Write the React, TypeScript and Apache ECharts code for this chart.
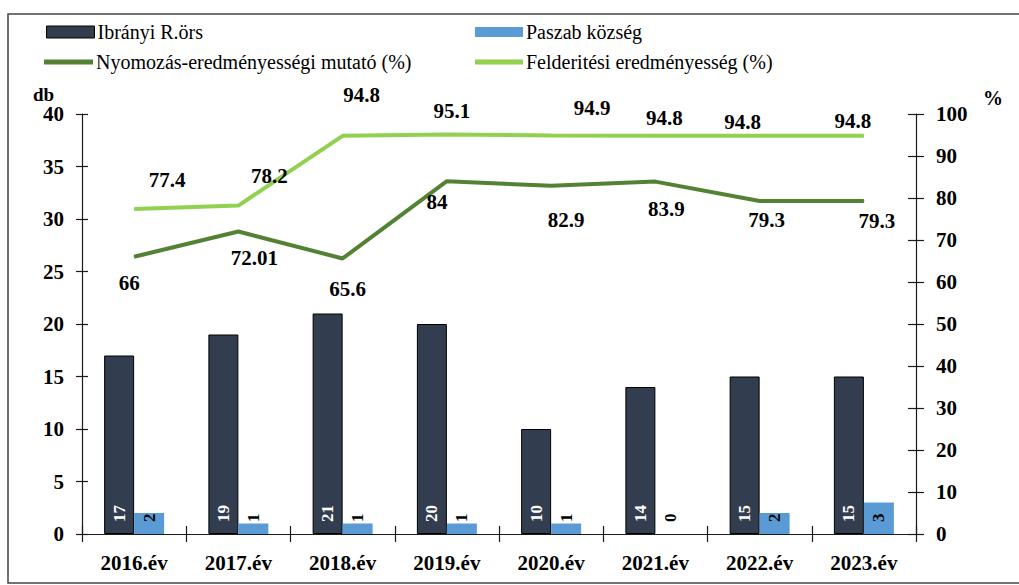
import React, { useEffect, useRef } from "react";
import * as echarts from "echarts";

const categories = ["2016.év", "2017.év", "2018.év", "2019.év", "2020.év", "2021.év", "2022.év", "2023.év"];
const ibranyi = [17, 19, 21, 20, 10, 14, 15, 15];
const paszab = [2, 1, 1, 1, 1, 0, 2, 3];
const nyomozas = [66, 72.01, 65.6, 84, 82.9, 83.9, 79.3, 79.3];
const felderitesi = [77.4, 78.2, 94.8, 95.1, 94.9, 94.8, 94.8, 94.8];

const seriesNames = [
  "Ibrányi R.örs",
  "Paszab község",
  "Nyomozás-eredményességi mutató (%)",
  "Felderitési eredményesség (%)",
];

// label placement offsets (styling only)
const nyomozasLabelOffsets = [[-5, 26], [16, 26], [5, 31], [-10, 21], [15, 34], [11, 27], [7, 19], [13, 20]];
const felderitesiLabelOffsets = [[33, -29], [31, -30], [19, -41], [5, -24], [41, -27], [9, -18], [-17, -14], [-11, -15]];

const SERIF = "Liberation Serif";
const DARK = "#323E4F";
const BLUE = "#5B9BD5";
const GREEN_DARK = "#548235";
const GREEN_LIGHT = "#92D050";
const AXIS = "#1a1a1a";

export default function App() {
  const ref = useRef<HTMLDivElement>(null);
  useEffect(() => {
    if (!ref.current) return;
    const chart = echarts.init(ref.current, null, { renderer: "svg" });
    const grid = { left: 82, right: 103, top: 114, bottom: 51 };
    const legendText = { fontFamily: SERIF, fontSize: 20, color: "#000", padding: [0, 0, 0, -2] };
    const lineLabel = {
      show: true,
      position: "inside",
      fontFamily: SERIF,
      fontWeight: "bold",
      fontSize: 21,
      color: "#000",
    };
    const barLabelBase = {
      show: true,
      position: "insideBottom",
      rotate: 90,
      align: "left",
      verticalAlign: "middle",
      distance: 12,
      fontFamily: SERIF,
      fontWeight: "bold",
      fontSize: 17,
    };
    const mkLegend = (name: string, left: number, top: number, w: number, h: number, extra: any = {}) => ({
      left,
      top,
      itemWidth: w,
      itemHeight: h,
      itemGap: 4,
      icon: "rect",
      data: [{ name, textStyle: legendText }],
      textStyle: legendText,
      selectedMode: false,
      ...extra,
    });
    const option: any = {
      animation: false,
      backgroundColor: "#fff",
      textStyle: { fontFamily: SERIF },
      grid,
      legend: [
        mkLegend(seriesNames[0], 41, 17, 48, 12, { itemStyle: { borderColor: "#000", borderWidth: 1 } }),
        mkLegend(seriesNames[1], 470, 17, 48, 10),
        mkLegend(seriesNames[2], 39, 47, 49, 5),
        mkLegend(seriesNames[3], 470, 47, 48, 5),
      ],
      xAxis: [
        {
          type: "category",
          data: categories,
          boundaryGap: true,
          axisLine: { lineStyle: { color: AXIS, width: 1.2 } },
          axisTick: { show: true, inside: false, length: 8, alignWithLabel: false, lineStyle: { color: AXIS, width: 1.2 } },
          axisLabel: { margin: 18, fontFamily: SERIF, fontWeight: "bold", fontSize: 21, color: "#000" },
          splitLine: { show: false },
        },
        {
          type: "category",
          data: categories,
          position: "bottom",
          boundaryGap: true,
          axisLine: { show: false },
          axisTick: { show: true, inside: true, length: 8, lineStyle: { color: AXIS, width: 1.2 } },
          axisLabel: { show: false },
          splitLine: { show: false },
        },
      ],
      yAxis: [
        {
          type: "value",
          min: 0,
          max: 40,
          interval: 5,
          position: "left",
          axisLine: { show: true, lineStyle: { color: AXIS, width: 1.2 } },
          axisTick: { show: true, length: 6, lineStyle: { color: AXIS, width: 1.2 } },
          axisLabel: { margin: 18, fontFamily: SERIF, fontWeight: "bold", fontSize: 21, color: "#000" },
          splitLine: { show: false },
        },
        {
          type: "value",
          min: 0,
          max: 100,
          interval: 10,
          position: "right",
          axisLine: { show: true, lineStyle: { color: AXIS, width: 1.2 } },
          axisTick: { show: true, length: 8, lineStyle: { color: AXIS, width: 1.2 } },
          axisLabel: { margin: 20, fontFamily: SERIF, fontWeight: "bold", fontSize: 21, color: "#000" },
          splitLine: { show: false },
        },
        {
          type: "value",
          min: 0,
          max: 40,
          interval: 5,
          position: "left",
          axisLine: { show: false },
          axisTick: { show: true, inside: true, length: 6, lineStyle: { color: AXIS, width: 1.2 } },
          axisLabel: { show: false },
          splitLine: { show: false },
        },
        {
          type: "value",
          min: 0,
          max: 100,
          interval: 10,
          position: "right",
          axisLine: { show: false },
          axisTick: { show: true, inside: true, length: 8, lineStyle: { color: AXIS, width: 1.2 } },
          axisLabel: { show: false },
          splitLine: { show: false },
        },
      ],
      series: [
        {
          name: seriesNames[0],
          type: "bar",
          xAxisIndex: 0,
          yAxisIndex: 0,
          data: ibranyi,
          barWidth: 30,
          barGap: "0%",
          itemStyle: { color: DARK, borderColor: "#000", borderWidth: 1 },
          label: { ...barLabelBase, color: "#fff" },
        },
        {
          name: seriesNames[1],
          type: "bar",
          xAxisIndex: 0,
          yAxisIndex: 0,
          data: paszab,
          barWidth: 30,
          barGap: "0%",
          itemStyle: { color: BLUE },
          label: { ...barLabelBase, color: "#000" },
        },
        {
          name: seriesNames[2],
          type: "line",
          xAxisIndex: 0,
          yAxisIndex: 1,
          z: 5,
          symbol: "circle",
          symbolSize: 1,
          showSymbol: true,
          itemStyle: { color: GREEN_DARK },
          lineStyle: { color: GREEN_DARK, width: 4 },
          data: nyomozas.map((v, i) => ({ value: v, label: { offset: nyomozasLabelOffsets[i] } })),
          label: lineLabel,
        },
        {
          name: seriesNames[3],
          type: "line",
          xAxisIndex: 0,
          yAxisIndex: 1,
          z: 5,
          symbol: "circle",
          symbolSize: 1,
          showSymbol: true,
          itemStyle: { color: GREEN_LIGHT },
          lineStyle: { color: GREEN_LIGHT, width: 4 },
          data: felderitesi.map((v, i) => ({ value: v, label: { offset: felderitesiLabelOffsets[i] } })),
          label: lineLabel,
        },
      ],
      graphic: [
        {
          type: "rect",
          shape: { x: 8, y: 14, width: 1030, height: 569 },
          style: { fill: "none", stroke: "#444", lineWidth: 1.5 },
          silent: true,
        },
        {
          type: "text",
          x: 33,
          y: 85,
          style: { text: "db", fontFamily: SERIF, fontWeight: "bold", fontSize: 19, fill: "#000" },
        },
        {
          type: "text",
          x: 983,
          y: 88,
          style: { text: "%", fontFamily: SERIF, fontWeight: "bold", fontSize: 20, fill: "#000" },
        },
      ],
    };
    chart.setOption(option);
    return () => chart.dispose();
  }, []);
  return (
    <div
      ref={ref}
      style={{ position: "fixed", left: 0, top: 0, width: 1019, height: 585, background: "#fff" }}
    />
  );
}
